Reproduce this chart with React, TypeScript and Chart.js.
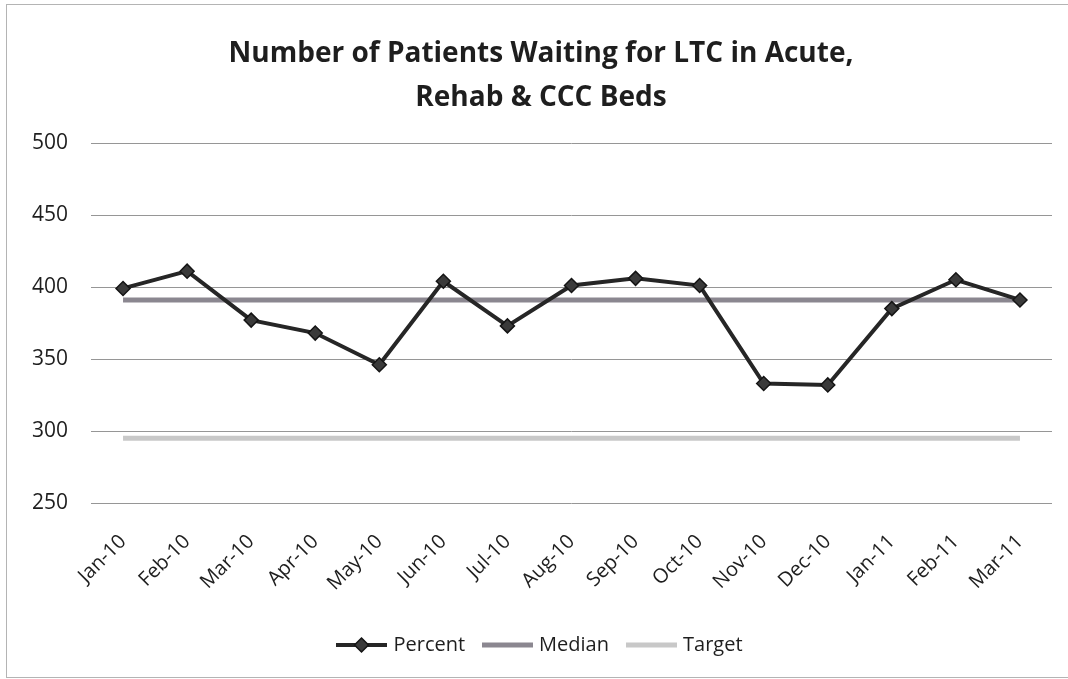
import { useEffect, useRef } from 'react';
import { Chart, registerables } from 'chart.js';

Chart.register(...registerables);

const titleLines = ['Number of Patients Waiting for LTC in Acute,', 'Rehab & CCC Beds'];
const months = ['Jan-10', 'Feb-10', 'Mar-10', 'Apr-10', 'May-10', 'Jun-10', 'Jul-10', 'Aug-10', 'Sep-10', 'Oct-10', 'Nov-10', 'Dec-10', 'Jan-11', 'Feb-11', 'Mar-11'];
const percentValues = [399, 411, 377, 368, 346, 404, 373, 401, 406, 401, 333, 332, 385, 405, 391];
const medianValues = [391, 391, 391, 391, 391, 391, 391, 391, 391, 391, 391, 391, 391, 391, 391];
const targetValues = [295, 295, 295, 295, 295, 295, 295, 295, 295, 295, 295, 295, 295, 295, 295];
const yMin = 250;
const yMax = 500;
const yStep = 50;

const PERCENT_COLOR = '#262626';
const MEDIAN_COLOR = '#8b8790';
const TARGET_COLOR = '#c8c8c8';
const TEXT_COLOR = '#1e1e1e';
const FONT = "'Open Sans', 'Noto Sans', sans-serif";

function makeIcon(color: string, lw: number, marker: boolean): HTMLCanvasElement {
  const c = document.createElement('canvas');
  c.width = 51;
  c.height = 18;
  const g = c.getContext('2d')!;
  g.strokeStyle = color;
  g.lineWidth = lw;
  g.beginPath();
  g.moveTo(0, 9);
  g.lineTo(51, 9);
  g.stroke();
  if (marker) {
    g.fillStyle = '#3a3a3a';
    g.strokeStyle = '#151515';
    g.lineWidth = 1.5;
    g.beginPath();
    g.moveTo(25.5, 2);
    g.lineTo(32.5, 9);
    g.lineTo(25.5, 16);
    g.lineTo(18.5, 9);
    g.closePath();
    g.fill();
    g.stroke();
  }
  return c;
}

export default function App() {
  const ref = useRef<HTMLCanvasElement | null>(null);

  useEffect(() => {
    if (!ref.current) return;
    const icons = [
      makeIcon(PERCENT_COLOR, 4, true),
      makeIcon(MEDIAN_COLOR, 5, false),
      makeIcon(TARGET_COLOR, 5, false),
    ];
    const chart = new Chart(ref.current, {
      type: 'line',
      data: {
        labels: months,
        datasets: [
          {
            label: 'Percent',
            data: percentValues,
            borderColor: PERCENT_COLOR,
            borderWidth: 4,
            pointStyle: 'rectRot',
            pointRadius: 7,
            pointBackgroundColor: '#3a3a3a',
            pointBorderColor: '#151515',
            pointBorderWidth: 1.5,
            tension: 0,
            order: 0,
          },
          {
            label: 'Median',
            data: medianValues,
            borderColor: MEDIAN_COLOR,
            borderWidth: 5,
            pointRadius: 0,
            tension: 0,
            order: 1,
          },
          {
            label: 'Target',
            data: targetValues,
            borderColor: TARGET_COLOR,
            borderWidth: 5,
            pointRadius: 0,
            tension: 0,
            order: 2,
          },
        ],
      },
      options: {
        responsive: false,
        animation: false,
        devicePixelRatio: 1,
        layout: { padding: { left: 30, right: 16, top: 0, bottom: 14 } },
        plugins: {
          tooltip: { enabled: false },
          title: {
            display: true,
            text: titleLines,
            color: TEXT_COLOR,
            font: { family: "'Open Sans', sans-serif", size: 28, weight: 'bold', lineHeight: 44 / 28 },
            padding: { top: 32, bottom: 23 },
          },
          legend: {
            position: 'bottom',
            labels: {
              usePointStyle: true,
              pointStyleWidth: 44,
              boxHeight: 16,
              padding: 20,
              color: TEXT_COLOR,
              font: { family: FONT, size: 20 },
              generateLabels: (ch: any) =>
                ch.data.datasets.map((ds: any, i: number) => ({
                  text: ds.label,
                  pointStyle: icons[i],
                  fillStyle: 'transparent',
                  strokeStyle: 'transparent',
                  lineWidth: 0,
                  hidden: false,
                  datasetIndex: i,
                  fontColor: TEXT_COLOR,
                })),
            },
          },
        },
        scales: {
          x: {
            offset: true,
            grid: { display: false },
            border: { display: false },
            ticks: {
              maxRotation: 45,
              minRotation: 45,
              autoSkip: false,
              padding: 19,
              color: TEXT_COLOR,
              font: { family: FONT, size: 20 },
            },
            afterFit: (s: any) => {
              s.height = 112;
            },
          },
          y: {
            min: yMin,
            max: yMax,
            ticks: {
              stepSize: yStep,
              padding: 23,
              color: TEXT_COLOR,
              font: { family: FONT, size: 21 },
            },
            grid: { color: '#969696', lineWidth: 1, drawTicks: false },
            border: { display: false },
            afterFit: (s: any) => {
              s.width = 61;
            },
          },
        },
      },
    });
    return () => chart.destroy();
  }, []);

  return (
    <div style={{ position: 'fixed', left: 0, top: 0, width: 1068, height: 679, background: '#fff', overflow: 'hidden' }}>
      <canvas ref={ref} width={1068} height={679} style={{ display: 'block' }} />
      <div
        style={{
          position: 'absolute',
          left: 6,
          top: 4,
          width: 1062,
          height: 672,
          border: '1px solid #b4b4b4',
          borderRight: 'none',
          pointerEvents: 'none',
        }}
      />
    </div>
  );
}
